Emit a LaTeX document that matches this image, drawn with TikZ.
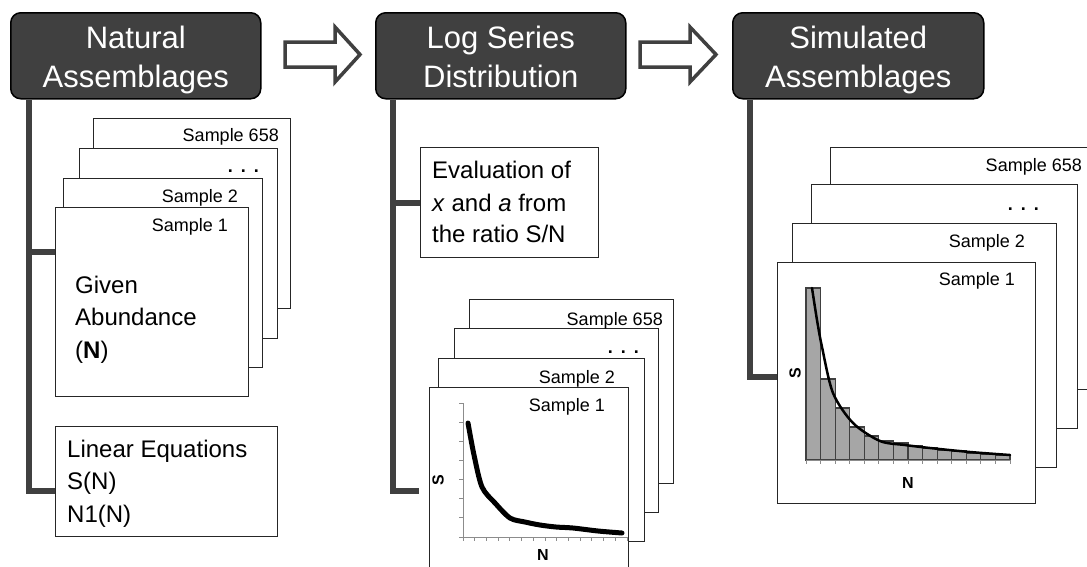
\documentclass[tikz,border=0pt]{standalone}
\usepackage{fontspec}
\setmainfont{Liberation Sans}
\begin{document}
\begin{tikzpicture}[x=1pt,y=-1pt,
  header/.style={draw=black, line width=1.5pt, fill=hdr, rounded corners=10pt,
    text=white, align=center, inner sep=0pt, text height=70pt, text depth=6pt,
    font=\fontsize{31}{39}\selectfont},
  sheet/.style={draw=black!85, line width=0.9pt, fill=white, inner sep=0pt, anchor=north west},
  trunk/.style={draw=hdr, line width=6pt},
  bigarrow/.style={draw=hdr, line width=3.5pt, fill=white, line join=miter},
  smp/.style={font=\fontsize{18}{20}\selectfont, inner sep=0pt, anchor=base east},
  dots/.style={font=\bfseries\fontsize{18}{20}\selectfont, inner sep=0pt, anchor=base east},
  body/.style={font=\fontsize{24}{28}\selectfont, inner sep=0pt, anchor=base west},
  axlab/.style={font=\bfseries\fontsize{16}{18}\selectfont, inner sep=0pt},
  axis/.style={draw=black!45, line width=0.8pt},
  bar/.style={draw=hdr, line width=1.2pt, fill=barfill}]
\definecolor{hdr}{HTML}{404040}
\definecolor{barfill}{HTML}{A6A6A6}
\newcommand{\threedots}{.\hspace{8pt}.\hspace{8pt}.}
\useasboundingbox (0,0) rectangle (1087,566);
\clip (0,0) rectangle (1087,566);

% ---------- stage headers ----------
\node[header, minimum width=250pt, minimum height=86pt, anchor=north west] (h1) at (10,12) {Natural\\Assemblages};
\node[header, minimum width=250pt, minimum height=86pt, anchor=north west] (h2) at (375,12) {Log Series\\Distribution};
\node[header, minimum width=251pt, minimum height=86pt, anchor=north west] (h3) at (732,12) {Simulated\\Assemblages};

% hollow arrows between stages
\draw[bigarrow] (285,42) -- (335,42) -- (335,27) -- (360,54.5) -- (335,82) -- (335,67) -- (285,67) -- cycle;
\draw[bigarrow] (640,42) -- (690,42) -- (690,27) -- (716,54.5) -- (690,82) -- (690,67) -- (640,67) -- cycle;

% ---------- stage 1: natural assemblages ----------
\node[sheet, minimum width=197pt, minimum height=190pt] (a4) at (93,118) {};
\node[sheet, minimum width=198pt, minimum height=190pt] (a3) at (79,148) {};
\node[sheet, minimum width=199pt, minimum height=189pt] (a2) at (63,178) {};
\node[sheet, minimum width=193pt, minimum height=189pt] (a1) at (55,207) {};
\node[smp] (a4t) at (279,141) {Sample 658};
\node[dots] (a3t) at (259,172) {\threedots};
\node[smp] (a2t) at (238,202) {Sample 2};
\node[smp] (a1t) at (228,231) {Sample 1};
\node[body] (given1) at (75,293) {Given};
\node[body] (given2) at (75,325.5) {Abundance};
\node[body] (given3) at (75,358) {(\textbf{N})};

\node[sheet, minimum width=222pt, minimum height=110pt] (lin) at (55,426) {};
\node[body] (lin1) at (67,457) {Linear Equations};
\node[body] (lin2) at (67,489.5) {S(N)};
\node[body] (lin3) at (67,522) {N1(N)};

\coordinate (t1) at (h1.south west -| 28.5,0);
\draw[trunk] (t1) |- (lin.west |- 0,491);
\draw[trunk] (t1 |- 0,252) -- (a1.west |- 0,252);

% ---------- stage 2: log series distribution ----------
\node[sheet, minimum width=178pt, minimum height=110pt] (ev) at (420,147) {};
\node[body] (ev1) at (432,178) {Evaluation of};
\node[body] (ev2) at (432,211) {\textit{x} and \textit{a} from};
\node[body] (ev3) at (432,242) {the ratio S/N};

\node[sheet, minimum width=204pt, minimum height=184pt] (b4) at (469,299) {};
\node[sheet, minimum width=204pt, minimum height=184pt] (b3) at (454,328) {};
\node[sheet, minimum width=206pt, minimum height=183pt] (b2) at (438,358) {};
\node[sheet, minimum width=199pt, minimum height=200pt] (b1) at (429,387) {};
\node[smp] (b4t) at (663,325) {Sample 658};
\node[dots] (b3t) at (639,353) {\threedots};
\node[smp] (b2t) at (615,383) {Sample 2};
\node[smp] (b1t) at (605,411) {Sample 1};

\coordinate (t2) at (h2.south west -| 393,0);
\coordinate (e2) at (419,491);
\draw[trunk] (t2) |- (e2);
\draw[trunk] (t2 |- 0,203) -- (ev.west |- 0,203);

% log series curve
\draw[axis] (463,403) -- (463,537) -- (627,537);
\foreach \k in {0,...,7} \draw[axis] (463,403+19.14*\k) -- (459,403+19.14*\k);
\foreach \k in {0,...,14} \draw[axis] (463+11.71*\k,537) -- (463+11.71*\k,541);
\draw[line width=5pt, line cap=round, line join=round] plot[smooth, tension=0.5] coordinates
  {(468,423) (474,455) (482,487) (495,503) (510,518) (525,522) (540,525) (556,527) (573,528) (598,531) (622,533)};
\node[axlab, rotate=90] (bS) at (438,480) {S};
\node[axlab] (bN) at (543,555) {N};

% ---------- stage 3: simulated assemblages ----------
\node[sheet, minimum width=280pt, minimum height=242pt] (c4) at (830,147) {};
\node[sheet, minimum width=266pt, minimum height=244pt] (c3) at (811,184) {};
\node[sheet, minimum width=264pt, minimum height=244pt] (c2) at (792,223) {};
\node[sheet, minimum width=258pt, minimum height=241pt] (c1) at (777,262) {};
\node[smp] (c4t) at (1082,171) {Sample 658};
\node[dots] (c3t) at (1039,210) {\threedots};
\node[smp] (c2t) at (1025,247) {Sample 2};
\node[smp] (c1t) at (1015,285) {Sample 1};

\coordinate (t3) at (h3.south west -| 750,0);
\draw[trunk] (t3) |- (c1.west |- 0,377);

% histogram with fitted curve
\foreach \h [count=\i from 0] in {288,379,408,427,436,441,443,446,448,450,451,453,454,455}
  \draw[bar] (806+14.57*\i,460) rectangle (806+14.57*\i+14.57,\h);
\draw[axis] (806,460) -- (1010,460);
\foreach \k in {0,...,14} \draw[axis] (806+14.57*\k,460) -- (806+14.57*\k,464);
\draw[line width=2.5pt, line cap=round, line join=round] plot[smooth, tension=0.5] coordinates
  {(812,288) (817,320) (822,347) (833,393) (853,423) (880,441) (905,445) (930,448) (970,452) (1010,455)};
\node[axlab, rotate=90] (cS) at (795,373) {S};
\node[axlab] (cN) at (908,483) {N};
\end{tikzpicture}
\end{document}
